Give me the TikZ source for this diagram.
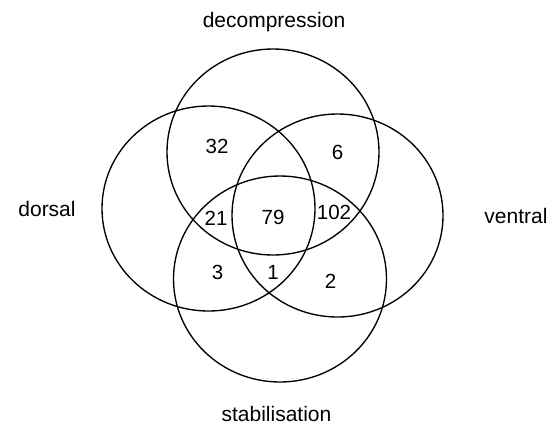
\documentclass[tikz,border=0pt]{standalone}
\usepackage{fontspec}
\setmainfont{Liberation Sans}
\begin{document}
\begin{tikzpicture}[x=1bp,y=-1bp,
  setring/.style={draw=black,line width=1.35bp},
  setlabel/.style={inner sep=0pt,anchor=base,font=\fontsize{21bp}{25bp}\selectfont},
  count/.style={inner sep=0pt,font=\fontsize{20.5bp}{24bp}\selectfont}]
  \useasboundingbox (0,0) rectangle (555,425);

  % the four sets
  \draw[setring] (273,152)   ellipse [x radius=106, y radius=103]; % decompression
  \draw[setring] (208.5,208.5) ellipse [x radius=106.5, y radius=102.5]; % dorsal
  \draw[setring] (337.5,215.5) ellipse [x radius=105.5, y radius=101.5]; % ventral
  \draw[setring] (280,279)   ellipse [x radius=106.5, y radius=103]; % stabilisation

  % set names
  \node[setlabel] (decomp) at (274,27)  {decompression};
  \node[setlabel] (dors)   at (47,216)  {dorsal};
  \node[setlabel] (ventr)  at (516,223) {ventral};
  \node[setlabel] (stab)   at (276.5,421) {stabilisation};

  % region counts
  \node[count] (n32)  at (217,146.5) {32};
  \node[count] (n6)   at (337.5,152.5) {6};
  \node[count] (n21)  at (216,218) {21};
  \node[count] (n79)  at (273,217.5) {79};
  \node[count] (n102) at (334,212.5) {102};
  \node[count] (n3)   at (217.5,272.5) {3};
  \node[count] (n1)   at (273,272.5) {1};
  \node[count] (n2)   at (330.5,281) {2};
\end{tikzpicture}
\end{document}
